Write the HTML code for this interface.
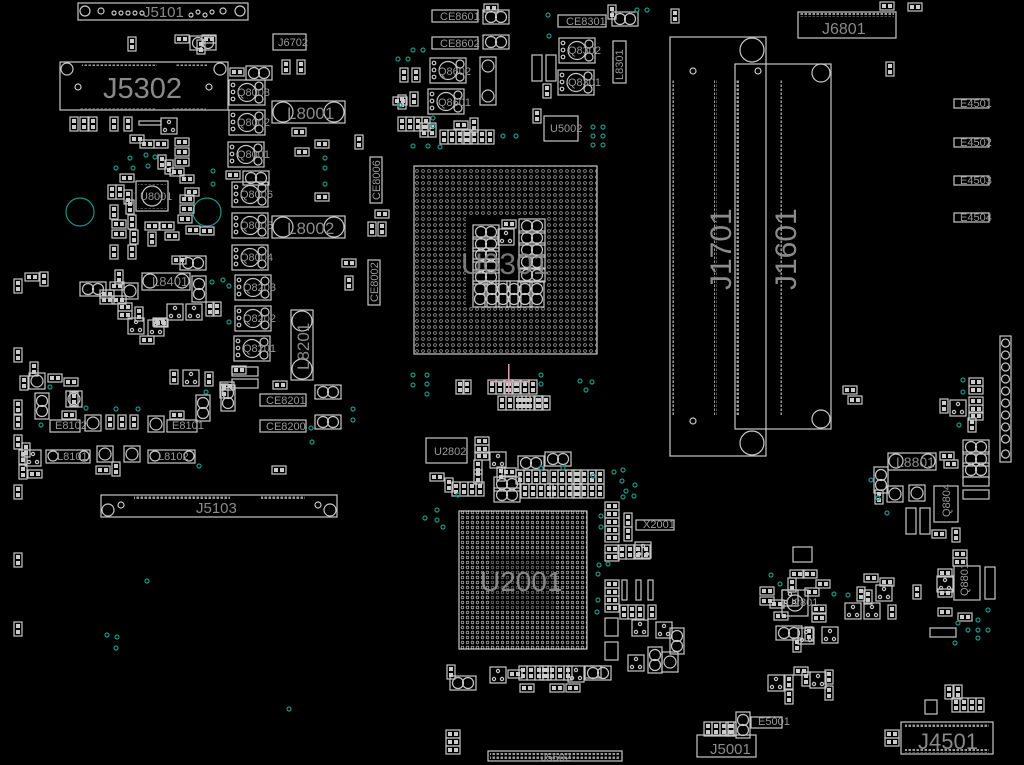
<!DOCTYPE html>
<html><head><meta charset="utf-8"><style>
html,body{margin:0;padding:0;background:#000;width:1024px;height:765px;overflow:hidden}
svg{display:block}
.o{fill:none;stroke:#c8c8c8;stroke-width:1.2}
.t{fill:none;stroke:#1a9488;stroke-width:1.2}
.lb{fill:#8a8a8a;font-family:"Liberation Sans",sans-serif}
.sl{fill:#9a9a9a;font-family:"Liberation Sans",sans-serif;font-size:11px}
</style></head><body>
<svg width="1024" height="765" viewBox="0 0 1024 765" xmlns="http://www.w3.org/2000/svg">
<defs>
<pattern id="bga" width="6" height="6" patternUnits="userSpaceOnUse">
<circle cx="3" cy="3" r="1.4" fill="none" stroke="#9a9a9a" stroke-width="0.8"/>
</pattern>
<pattern id="bga2" width="5" height="5" patternUnits="userSpaceOnUse">
<circle cx="2.5" cy="2.5" r="1.3" fill="none" stroke="#a8a8a8" stroke-width="0.8"/>
</pattern>
<pattern id="pins" width="4" height="4" patternUnits="userSpaceOnUse">
<rect x="0.5" y="0.5" width="2.5" height="2.5" fill="#999"/>
</pattern>
<g id="p"><rect class="o" x="0" y="0" width="14" height="8"/><rect x="2" y="2" width="4" height="4" fill="#ccc"/><rect x="8" y="2" width="4" height="4" fill="#ccc"/></g>
<g id="v"><rect class="o" x="0" y="0" width="8" height="14"/><rect x="2" y="2" width="4" height="4" fill="#ccc"/><rect x="2" y="8" width="4" height="4" fill="#ccc"/></g>
<g id="c2"><rect class="o" x="0" y="0" width="26" height="14"/><circle class="o" cx="8" cy="7" r="5.5"/><circle class="o" cx="18" cy="7" r="5.5"/></g>
<g id="c2v"><rect class="o" x="0" y="0" width="14" height="26"/><circle class="o" cx="7" cy="8" r="5.5"/><circle class="o" cx="7" cy="18" r="5.5"/></g>
<g id="q"><rect class="o" x="0" y="0" width="36" height="25"/><circle class="o" cx="18" cy="12.5" r="9"/><circle class="o" cx="30" cy="6" r="4"/><circle class="o" cx="30" cy="19" r="4"/><circle class="o" cx="4" cy="5" r="1.8"/><circle class="o" cx="4" cy="12" r="1.8"/><circle class="o" cx="4" cy="19" r="1.8"/></g>
<g id="sq"><rect class="o" x="0" y="0" width="16" height="16"/><circle class="o" cx="8" cy="8" r="6"/></g>
<g id="ic"><rect class="o" x="0" y="0" width="16" height="16"/><circle class="o" cx="4" cy="12" r="1.6"/><circle class="o" cx="12" cy="12" r="1.6"/><circle class="o" cx="8" cy="4" r="1.6"/></g>
<g id="p4"><use href="#v" x="0"/><use href="#v" x="8"/><use href="#v" x="16"/><use href="#v" x="24"/></g>
</defs>
<rect width="1024" height="765" fill="#000"/>

<!-- J5101 -->
<rect class="o" x="78" y="3" width="170" height="17"/>
<circle class="o" cx="85" cy="11" r="5"/><circle class="o" cx="240" cy="11" r="5"/>
<circle class="o" cx="101" cy="11" r="3"/><circle class="o" cx="223" cy="11" r="3"/>
<g class="o"><circle cx="114" cy="13" r="2"/><circle cx="121" cy="13" r="2"/><circle cx="128" cy="13" r="2"/><circle cx="135" cy="13" r="2"/><circle cx="142" cy="13" r="2"/><circle cx="191" cy="15" r="2"/><circle cx="198" cy="12" r="2"/><circle cx="205" cy="15" r="2"/><circle cx="212" cy="12" r="2"/></g>
<text class="lb" x="143" y="17" font-size="15">J5101</text>

<!-- J5302 -->
<rect class="o" x="60" y="62" width="168" height="48"/>
<circle class="o" cx="67" cy="69" r="6"/><circle class="o" cx="220" cy="69" r="6"/>
<circle class="o" cx="78" cy="87" r="3"/><circle class="o" cx="209" cy="87" r="3"/>
<rect x="82" y="63" width="75" height="3" fill="url(#pins)"/><rect x="175" y="63" width="32" height="3" fill="url(#pins)"/>
<rect x="80" y="107" width="75" height="3" fill="url(#pins)"/><rect x="172" y="107" width="34" height="3" fill="url(#pins)"/>
<text class="lb" x="103" y="98" font-size="29">J5302</text>

<!-- J6702 -->
<rect class="o" x="273" y="34" width="33" height="16"/><text class="sl" x="278" y="46" font-size="9">J6702</text>

<!-- Q parts left column -->
<use href="#q" x="229" y="80"/><use href="#q" x="229" y="110"/><use href="#q" x="228" y="142"/>
<use href="#q" x="232" y="182"/><use href="#q" x="232" y="213"/><use href="#q" x="232" y="245"/>
<use href="#q" x="235" y="275"/><use href="#q" x="235" y="306"/><use href="#q" x="234" y="336"/>
<text class="sl" x="237" y="96" font-size="9">Q8003</text>
<text class="sl" x="237" y="126" font-size="9">Q8002</text>
<text class="sl" x="237" y="158" font-size="9">Q8001</text>
<text class="sl" x="240" y="198" font-size="9">Q8006</text>
<text class="sl" x="240" y="229" font-size="9">Q8005</text>
<text class="sl" x="240" y="261" font-size="9">Q8004</text>
<text class="sl" x="243" y="291" font-size="9">Q8203</text>
<text class="sl" x="243" y="322" font-size="9">Q8202</text>
<text class="sl" x="243" y="352" font-size="9">Q8201</text>

<!-- L8001 L8002 -->
<rect class="o" x="272" y="101" width="73" height="22"/><circle class="o" cx="283" cy="112" r="10"/><circle class="o" cx="334" cy="112" r="10"/>
<text class="lb" x="287" y="119" font-size="17">L8001</text>
<rect class="o" x="272" y="216" width="73" height="22"/><circle class="o" cx="283" cy="227" r="10"/><circle class="o" cx="334" cy="227" r="10"/>
<text class="lb" x="287" y="234" font-size="17">L8002</text>
<!-- L8201 -->
<rect class="o" x="291" y="310" width="22" height="70"/><circle class="o" cx="302" cy="321" r="10"/><circle class="o" cx="302" cy="369" r="10"/>
<text class="lb" font-size="17" transform="translate(309,370) rotate(-90)">L8201</text>

<!-- U8001 area -->
<rect class="o" x="136" y="181" width="32" height="30"/><circle class="o" cx="152" cy="196" r="10"/>
<rect x="138" y="183" width="28" height="2" fill="url(#pins)"/><rect x="138" y="207" width="28" height="2" fill="url(#pins)"/>
<text class="sl" x="140" y="200" font-size="8">U8001</text>
<circle class="t" cx="80" cy="212" r="14"/><circle class="t" cx="207" cy="212" r="14"/>
<use href="#v" x="70" y="117"/><use href="#v" x="80" y="117"/><use href="#v" x="89" y="117"/><use href="#v" x="110" y="117"/><use href="#v" x="124" y="117"/>
<rect class="o" x="139" y="121" width="22" height="4"/><use href="#ic" x="161" y="118"/>
<use href="#p" x="130" y="135"/><use href="#p" x="140" y="140"/><use href="#p" x="154" y="140"/><use href="#p" x="175" y="138"/><use href="#p" x="175" y="148"/><use href="#p" x="175" y="158"/>
<use href="#v" x="158" y="155"/><use href="#v" x="165" y="160"/><use href="#p" x="170" y="168"/><use href="#p" x="180" y="175"/><use href="#p" x="180" y="195"/><use href="#p" x="180" y="205"/>
<use href="#p" x="120" y="174"/><use href="#v" x="108" y="185"/><use href="#v" x="116" y="185"/><use href="#v" x="124" y="190"/><use href="#v" x="110" y="205"/><use href="#v" x="126" y="200"/>
<use href="#p" x="112" y="220"/><use href="#p" x="112" y="230"/><use href="#v" x="128" y="215"/><use href="#p" x="145" y="222"/><use href="#p" x="160" y="222"/><use href="#p" x="165" y="232"/>
<use href="#v" x="130" y="230"/><use href="#v" x="148" y="232"/><use href="#p" x="178" y="215"/><use href="#v" x="110" y="245"/><use href="#v" x="128" y="245"/>
<use href="#p" x="185" y="188"/><use href="#p" x="200" y="227"/>
<use href="#c2" x="180" y="256"/><use href="#p" x="172" y="256"/>

<!-- top-left small parts -->
<use href="#v" x="128" y="37"/><use href="#p" x="175" y="35"/><use href="#c2" x="190" y="36"/><use href="#v" x="197" y="40"/><use href="#p" x="202" y="35"/>
<use href="#v" x="282" y="60"/><use href="#v" x="297" y="60"/>
<use href="#p" x="230" y="68"/><use href="#c2" x="246" y="66"/>
<use href="#p" x="292" y="128"/><use href="#p" x="295" y="148"/><use href="#p" x="315" y="140"/>
<use href="#p" x="315" y="193"/><use href="#p" x="226" y="171"/><use href="#c2" x="243" y="171"/><use href="#v" x="355" y="135"/>
<rect class="o" x="370" y="157" width="12" height="46"/><text class="sl" font-size="8" transform="translate(380,200) rotate(-90)">CE8006</text>
<use href="#v" x="368" y="222"/><use href="#v" x="378" y="222"/><use href="#p" x="375" y="210"/>
<rect class="o" x="368" y="260" width="12" height="45"/><text class="sl" font-size="8" transform="translate(378,302) rotate(-90)">CE8002</text>
<use href="#v" x="345" y="276"/><use href="#p" x="342" y="259"/><use href="#p" x="186" y="226"/>

<!-- left mid -->
<use href="#v" x="14" y="279"/><use href="#p" x="25" y="273"/><use href="#v" x="40" y="272"/>
<use href="#c2" x="80" y="282"/><use href="#p" x="100" y="290"/><use href="#p" x="110" y="282"/><use href="#p" x="100" y="296"/><use href="#p" x="112" y="296"/>
<use href="#sq" x="122" y="283"/><use href="#v" x="115" y="270"/><use href="#p" x="118" y="303"/><use href="#p" x="118" y="311"/><use href="#v" x="135" y="307"/>
<rect class="o" x="142" y="273" width="48" height="17"/><circle class="o" cx="150" cy="281" r="7"/><circle class="o" cx="182" cy="281" r="7"/><text class="lb" x="152" y="286" font-size="13">L8401</text>
<use href="#c2v" x="192" y="276"/><use href="#p" x="154" y="319"/><use href="#ic" x="128" y="318"/><use href="#ic" x="148" y="320"/><use href="#ic" x="167" y="304"/><use href="#ic" x="186" y="304"/>
<use href="#v" x="206" y="302"/><use href="#v" x="213" y="302"/><use href="#p" x="140" y="336"/><use href="#p" x="153" y="318"/>
<use href="#v" x="14" y="348"/><use href="#v" x="20" y="376"/><use href="#v" x="30" y="362"/><use href="#sq" x="29" y="373"/><use href="#p" x="48" y="374"/><use href="#p" x="64" y="378"/><use href="#v" x="70" y="392"/>
<use href="#c2v" x="35" y="393"/><use href="#sq" x="66" y="391"/><use href="#v" x="14" y="400"/><use href="#v" x="14" y="415"/><use href="#v" x="19" y="450"/><use href="#v" x="14" y="435"/>
<rect class="o" x="50" y="420" width="30" height="12"/><text class="sl" x="55" y="429" font-size="7">E8102</text>
<use href="#sq" x="85" y="415"/><use href="#v" x="106" y="415"/><use href="#v" x="118" y="415"/><use href="#v" x="130" y="415"/><use href="#sq" x="148" y="416"/>
<rect class="o" x="167" y="420" width="30" height="12"/><text class="sl" x="172" y="429" font-size="7">E8101</text>
<use href="#p" x="62" y="411"/><use href="#p" x="170" y="411"/><use href="#v" x="170" y="370"/><use href="#ic" x="183" y="370"/><use href="#v" x="205" y="372"/>
<use href="#c2v" x="196" y="395"/><use href="#p" x="220" y="382"/><use href="#v" x="220" y="384"/>
<use href="#v" x="22" y="443"/><use href="#v" x="19" y="465"/><use href="#ic" x="25" y="450"/><use href="#p" x="28" y="470"/>
<rect class="o" x="46" y="450" width="44" height="13"/><circle class="o" cx="53" cy="456" r="5"/><circle class="o" cx="84" cy="456" r="5"/><text class="sl" x="57" y="460" font-size="10">L8101</text>
<rect class="o" x="148" y="450" width="47" height="13"/><circle class="o" cx="155" cy="456" r="5"/><circle class="o" cx="189" cy="456" r="5"/><text class="sl" x="158" y="460" font-size="10">L8102</text>
<use href="#sq" x="97" y="446"/><use href="#sq" x="124" y="446"/><use href="#v" x="112" y="462"/><use href="#p" x="96" y="466"/><use href="#p" x="272" y="466"/>
<use href="#v" x="14" y="485"/><use href="#v" x="14" y="553"/><use href="#v" x="14" y="622"/>
<!-- CE82xx -->
<use href="#p" x="232" y="366"/><rect class="o" x="232" y="367" width="26" height="9"/>
<rect class="o" x="232" y="379" width="26" height="9"/><use href="#p" x="273" y="381"/>
<rect class="o" x="260" y="394" width="46" height="12"/><text class="sl" x="266" y="404" font-size="10">CE8201</text>
<rect class="o" x="260" y="420" width="46" height="12"/><text class="sl" x="266" y="430" font-size="10">CE8200</text>
<use href="#c2" x="315" y="385"/><use href="#c2" x="315" y="415"/><use href="#c2v" x="221" y="385"/>

<!-- J5103 -->
<rect class="o" x="101" y="495" width="236" height="22"/>
<circle class="o" cx="108" cy="510" r="6"/><circle class="o" cx="330" cy="510" r="6"/><circle class="o" cx="121" cy="505" r="3"/><circle class="o" cx="318" cy="505" r="3"/>
<rect x="134" y="496" width="96" height="3" fill="url(#pins)"/><rect x="261" y="496" width="44" height="3" fill="url(#pins)"/>
<text class="lb" x="196" y="513" font-size="15">J5103</text>

<!-- U0301 -->
<rect x="414" y="166" width="183" height="188" fill="url(#bga)"/>
<rect x="466" y="215" width="80" height="90" fill="#000"/>
<rect class="o" x="414" y="166" width="183" height="188"/>
<use href="#c2" x="473" y="225"/><use href="#c2" x="473" y="237"/><use href="#c2" x="473" y="248"/><use href="#c2" x="473" y="259"/><use href="#c2" x="473" y="270"/>
<use href="#c2" x="519" y="219"/><use href="#c2" x="519" y="231"/><use href="#c2" x="519" y="243"/><use href="#c2" x="519" y="255"/><use href="#c2" x="519" y="268"/>
<use href="#c2v" x="473" y="281"/><use href="#c2v" x="485" y="281"/><use href="#c2v" x="496" y="281"/><use href="#c2v" x="507" y="281"/><use href="#c2v" x="518" y="281"/><use href="#c2v" x="530" y="281"/>
<use href="#ic" x="498" y="229"/><use href="#p" x="502" y="220"/>
<text x="461" y="274" font-size="30" fill="#8a8a8a" fill-opacity="0.85" font-family="Liberation Sans,sans-serif">U0301</text>

<!-- top middle -->
<rect class="o" x="432" y="10" width="46" height="12"/><text class="sl" x="440" y="20" font-size="10">CE8601</text>
<rect class="o" x="432" y="37" width="46" height="12"/><text class="sl" x="440" y="47" font-size="10">CE8602</text>
<use href="#c2" x="483" y="35"/><use href="#c2" x="483" y="10"/><use href="#p" x="484" y="4"/>
<use href="#q" x="430" y="58"/><use href="#q" x="428" y="89"/><text class="sl" x="438" y="75" font-size="9">Q8602</text><text class="sl" x="438" y="106" font-size="9">Q8601</text>
<rect class="o" x="480" y="57" width="16" height="48"/><circle class="o" cx="488" cy="66" r="6"/><circle class="o" cx="488" cy="96" r="6"/>
<use href="#v" x="400" y="68"/><use href="#v" x="412" y="68"/><use href="#v" x="410" y="92"/><use href="#v" x="398" y="95"/><use href="#p" x="393" y="97"/>
<use href="#p4" x="398" y="117"/><use href="#v" x="420" y="123"/><use href="#v" x="428" y="123"/><use href="#p4" x="440" y="130"/><use href="#p4" x="462" y="130"/><use href="#p" x="454" y="121"/><use href="#v" x="470" y="118"/>
<rect class="o" x="558" y="15" width="48" height="12"/><text class="sl" x="566" y="25" font-size="10">CE8301</text>
<use href="#c2" x="612" y="12"/><use href="#v" x="608" y="5"/>
<use href="#q" x="559" y="38"/><use href="#q" x="558" y="70"/><text class="sl" x="568" y="54" font-size="9">Q8302</text><text class="sl" x="568" y="86" font-size="9">Q8301</text>
<rect class="o" x="613" y="41" width="13" height="42"/><text class="sl" font-size="9" transform="translate(623,80) rotate(-90)">L8301</text>
<rect class="o" x="532" y="55" width="10" height="26"/><rect class="o" x="546" y="55" width="10" height="26"/><use href="#v" x="543" y="84"/>
<rect class="o" x="544" y="116" width="34" height="25"/><text class="sl" x="550" y="132" font-size="9">U5002</text><use href="#v" x="533" y="109"/>
<use href="#v" x="671" y="9"/>

<!-- between -->
<use href="#v" x="456" y="380"/><use href="#v" x="463" y="380"/>
<use href="#p4" x="488" y="380"/><use href="#p4" x="505" y="380"/>
<use href="#p4" x="498" y="396"/><use href="#p4" x="518" y="396"/><use href="#v" x="535" y="396"/>
<rect x="508" y="364" width="1.5" height="30" fill="#d4a0b0"/><rect x="490" y="381" width="40" height="1.5" fill="#d4a0b0"/>

<!-- U2802 area -->
<rect class="o" x="426" y="438" width="41" height="25"/><text class="sl" x="434" y="455" font-size="10">U2802</text>
<use href="#p" x="475" y="437"/><use href="#p" x="475" y="445"/><use href="#p" x="475" y="452"/><use href="#v" x="474" y="460"/><use href="#v" x="474" y="470"/>
<use href="#ic" x="490" y="452"/><use href="#c2" x="518" y="456"/><use href="#c2" x="545" y="452"/><use href="#p" x="502" y="468"/>
<use href="#c2" x="494" y="477"/><use href="#c2" x="494" y="488"/>
<use href="#p4" x="516" y="470"/><use href="#p4" x="550" y="470"/><use href="#p4" x="572" y="470"/>
<use href="#p4" x="521" y="484"/><use href="#p4" x="550" y="484"/><use href="#p4" x="572" y="484"/>
<use href="#p4" x="452" y="482"/><use href="#v" x="445" y="478"/><use href="#p" x="430" y="473"/><use href="#v" x="497" y="467"/>

<!-- U2001 -->
<rect x="459" y="511" width="128" height="138" fill="url(#bga2)"/>
<rect x="490" y="555" width="64" height="55" fill="#000" fill-opacity="0.35"/>
<rect class="o" x="459" y="511" width="128" height="138"/>
<text x="480" y="591" font-size="28" fill="#9a9a9a" fill-opacity="0.85" font-family="Liberation Sans,sans-serif">U2001</text>
<use href="#p" x="605" y="502"/><use href="#p" x="605" y="510"/><use href="#p" x="605" y="518"/><use href="#p" x="605" y="526"/><use href="#p" x="605" y="534"/>
<use href="#v" x="624" y="513"/><use href="#v" x="624" y="527"/>
<rect class="o" x="636" y="520" width="38" height="10"/><text class="sl" x="643" y="528" font-size="8">X2001</text>
<use href="#p" x="605" y="545"/><use href="#p" x="605" y="553"/><use href="#p4" x="618" y="545"/><use href="#ic" x="635" y="542"/>
<use href="#p" x="605" y="580"/><use href="#p" x="605" y="588"/><use href="#p" x="605" y="596"/><use href="#p" x="605" y="604"/>
<rect class="o" x="622" y="580" width="5" height="20"/><rect class="o" x="636" y="580" width="5" height="20"/><rect class="o" x="648" y="580" width="5" height="20"/>
<use href="#v" x="620" y="605"/><use href="#v" x="628" y="605"/><use href="#v" x="636" y="605"/><use href="#v" x="648" y="605"/>
<rect class="o" x="605" y="618" width="13" height="18"/><use href="#ic" x="632" y="620"/><use href="#ic" x="656" y="622"/><use href="#c2v" x="670" y="628"/>
<rect class="o" x="605" y="642" width="13" height="18"/><use href="#ic" x="628" y="655"/><use href="#c2v" x="648" y="647"/><rect class="o" x="662" y="652" width="16" height="20"/><circle class="o" cx="670" cy="662" r="6"/>
<use href="#c2" x="585" y="666"/><rect class="o" x="585" y="666" width="16" height="12"/>
<use href="#p4" x="519" y="666"/><use href="#p4" x="540" y="666"/><use href="#p" x="508" y="670"/><use href="#ic" x="490" y="667"/><use href="#ic" x="568" y="666"/>
<use href="#p" x="520" y="684"/><use href="#p" x="550" y="684"/><use href="#p" x="566" y="684"/><use href="#c2" x="450" y="676"/><use href="#v" x="447" y="665"/>
<use href="#p" x="446" y="730"/><use href="#p" x="446" y="738"/><use href="#p" x="446" y="746"/>

<!-- J5502 -->
<rect class="o" x="488" y="751" width="134" height="10"/><rect x="490" y="753" width="130" height="6" fill="url(#pins)"/>
<text class="sl" x="541" y="761" font-size="8">J5502</text>

<!-- J1701 / J1601 -->
<rect class="o" x="670" y="37" width="96" height="419"/>
<circle class="o" cx="752" cy="50" r="12"/><circle class="o" cx="693" cy="71" r="3"/><circle class="o" cx="693" cy="421" r="3"/><circle class="o" cx="752" cy="443" r="12"/>
<rect x="671" y="80" width="3" height="335" fill="url(#pins)"/><rect x="714" y="80" width="3" height="335" fill="url(#pins)"/>
<rect class="o" x="735" y="64" width="96" height="365"/>
<circle class="o" cx="821" cy="73" r="9"/><circle class="o" cx="758" cy="71" r="3"/><circle class="o" cx="821" cy="419" r="9"/>
<rect x="736" y="80" width="3" height="335" fill="url(#pins)"/><rect x="779" y="80" width="3" height="335" fill="url(#pins)"/>
<text class="lb" font-size="30" transform="translate(731,290) rotate(-90)">J1701</text>
<text class="lb" font-size="30" transform="translate(796,290) rotate(-90)">J1601</text>

<!-- J6801 -->
<rect class="o" x="798" y="12" width="98" height="26"/><rect x="800" y="13" width="94" height="4" fill="url(#pins)"/>
<text class="lb" x="822" y="34" font-size="16">J6801</text>
<use href="#p" x="880" y="2"/><use href="#p" x="908" y="3"/><use href="#v" x="886" y="62"/>
<!-- E450x -->
<rect class="o" x="954" y="99" width="35" height="9"/><text class="sl" x="960" y="107" font-size="7">E4501</text>
<rect class="o" x="954" y="138" width="35" height="9"/><text class="sl" x="960" y="146" font-size="7">E4502</text>
<rect class="o" x="954" y="176" width="35" height="9"/><text class="sl" x="960" y="184" font-size="7">E4503</text>
<rect class="o" x="954" y="213" width="35" height="9"/><text class="sl" x="960" y="221" font-size="7">E4504</text>

<!-- right connector -->
<rect class="o" x="1000" y="336" width="11" height="126"/>
<g class="o"><circle cx="1005.5" cy="343" r="4"/><circle cx="1005.5" cy="355" r="4"/><circle cx="1005.5" cy="367" r="4"/><circle cx="1005.5" cy="379" r="4"/><circle cx="1005.5" cy="391" r="4"/><circle cx="1005.5" cy="403" r="4"/><circle cx="1005.5" cy="415" r="4"/><circle cx="1005.5" cy="427" r="4"/><circle cx="1005.5" cy="439" r="4"/><circle cx="1005.5" cy="454" r="4"/></g>
<use href="#p" x="843" y="386"/><use href="#p" x="848" y="396"/>
<use href="#p" x="969" y="378"/><use href="#p" x="969" y="386"/><use href="#p" x="969" y="397"/><use href="#p" x="969" y="405"/><use href="#p" x="969" y="412"/><use href="#v" x="940" y="399"/><use href="#ic" x="950" y="400"/><use href="#v" x="968" y="418"/>
<use href="#c2" x="963" y="440"/><use href="#c2" x="963" y="452"/><use href="#c2" x="963" y="463"/><use href="#p" x="940" y="452"/><use href="#p" x="944" y="460"/>
<rect class="o" x="888" y="453" width="48" height="17"/><circle class="o" cx="896" cy="461" r="7"/><circle class="o" cx="928" cy="461" r="7"/><text class="lb" x="896" y="467" font-size="14">L8801</text>
<rect class="o" x="963" y="477" width="26" height="9"/><rect class="o" x="963" y="490" width="26" height="9"/>
<use href="#c2v" x="874" y="467"/><use href="#v" x="875" y="490"/><use href="#sq" x="887" y="486"/><use href="#sq" x="909" y="485"/>
<rect class="o" x="934" y="486" width="24" height="36"/><text class="sl" font-size="9" transform="translate(950,517) rotate(-90)">Q8804</text>
<rect class="o" x="906" y="508" width="10" height="26"/><rect class="o" x="920" y="508" width="10" height="26"/><use href="#p" x="932" y="530"/><use href="#v" x="952" y="528"/>
<!-- right lower -->
<use href="#p" x="953" y="550"/><use href="#p" x="953" y="558"/><use href="#p" x="938" y="569"/><use href="#ic" x="937" y="576"/><use href="#p" x="938" y="589"/><use href="#p" x="938" y="608"/>
<rect class="o" x="954" y="566" width="26" height="34"/><text class="sl" font-size="8" transform="translate(968,596) rotate(-90)">Q8801</text>
<rect class="o" x="985" y="567" width="10" height="32"/>
<rect class="o" x="930" y="628" width="26" height="9"/><use href="#p" x="958" y="613"/>
<use href="#p" x="864" y="574"/><use href="#p" x="880" y="578"/><use href="#ic" x="876" y="585"/><use href="#ic" x="845" y="603"/><use href="#v" x="857" y="587"/><use href="#v" x="864" y="590"/><use href="#ic" x="864" y="603"/><use href="#v" x="888" y="605"/>
<rect class="o" x="793" y="547" width="19" height="15"/>
<use href="#ic" x="782" y="590"/><rect class="o" x="782" y="590" width="26" height="26"/><circle class="o" cx="795" cy="603" r="8"/><text class="sl" x="786" y="606" font-size="6">U2801</text>
<use href="#p" x="760" y="587"/><use href="#p" x="760" y="597"/><use href="#p" x="774" y="612"/><use href="#p" x="770" y="600"/><use href="#p" x="790" y="570"/><use href="#p" x="803" y="570"/><use href="#p" x="816" y="580"/><use href="#v" x="788" y="578"/>
<use href="#p" x="805" y="588"/><use href="#p" x="812" y="605"/><use href="#p" x="812" y="614"/><use href="#c2" x="776" y="626"/><use href="#v" x="805" y="627"/><use href="#ic" x="822" y="627"/><use href="#v" x="793" y="638"/><use href="#ic" x="798" y="628"/>
<use href="#p" x="794" y="667"/><use href="#ic" x="768" y="675"/><use href="#v" x="785" y="675"/><use href="#v" x="802" y="672"/><use href="#ic" x="810" y="672"/><use href="#v" x="825" y="670"/><use href="#v" x="825" y="686"/><use href="#v" x="785" y="690"/>
<use href="#v" x="913" y="585"/>
<!-- J5001 / J4501 -->
<rect class="o" x="697" y="735" width="59" height="22"/><text class="lb" x="710" y="754" font-size="15">J5001</text>
<use href="#p4" x="704" y="722"/><use href="#v" x="726" y="722"/><use href="#c2v" x="736" y="712"/>
<rect class="o" x="751" y="717" width="31" height="11"/><text class="sl" x="758" y="725" font-size="7">E5001</text>
<rect class="o" x="901" y="722" width="92" height="32"/><rect x="905" y="723" width="84" height="4" fill="url(#pins)"/><rect x="905" y="749" width="84" height="4" fill="url(#pins)"/>
<text class="lb" x="918" y="749" font-size="22">J4501</text>
<use href="#v" x="945" y="685"/><use href="#v" x="954" y="685"/><use href="#p" x="885" y="730"/><use href="#p" x="885" y="738"/><rect class="o" x="925" y="700" width="12" height="14"/><use href="#p4" x="952" y="698"/>

<!-- teal vias -->
<g class="t">
<circle cx="130" cy="158" r="2"/><circle cx="146" cy="155" r="2"/><circle cx="155" cy="157" r="2"/><circle cx="116" cy="168" r="2"/><circle cx="133" cy="168" r="2"/><circle cx="148" cy="166" r="2"/><circle cx="213" cy="171" r="2"/><circle cx="213" cy="184" r="2"/><circle cx="325" cy="158" r="2"/><circle cx="325" cy="168" r="2"/><circle cx="325" cy="184" r="2"/>
<circle cx="212" cy="282" r="2"/><circle cx="223" cy="280" r="2"/><circle cx="229" cy="286" r="2"/><circle cx="229" cy="322" r="2"/><circle cx="50" cy="387" r="2"/><circle cx="86" cy="408" r="2"/><circle cx="116" cy="409" r="2"/><circle cx="138" cy="409" r="2"/><circle cx="206" cy="392" r="2"/><circle cx="41" cy="425" r="2"/><circle cx="199" cy="466" r="2"/><circle cx="311" cy="428" r="2"/><circle cx="312" cy="442" r="2"/><circle cx="353" cy="409" r="2"/><circle cx="353" cy="420" r="2"/>
<circle cx="147" cy="581" r="2"/><circle cx="107" cy="635" r="2"/><circle cx="117" cy="637" r="2"/><circle cx="116" cy="648" r="2"/><circle cx="289" cy="709" r="2"/>
<circle cx="413" cy="375" r="2"/><circle cx="413" cy="385" r="2"/><circle cx="427" cy="375" r="2"/><circle cx="427" cy="384" r="2"/><circle cx="427" cy="394" r="2"/><circle cx="541" cy="375" r="2"/><circle cx="541" cy="384" r="2"/><circle cx="580" cy="381" r="2"/><circle cx="592" cy="382" r="2"/><circle cx="586" cy="390" r="2"/>
<circle cx="413" cy="50" r="2"/><circle cx="423" cy="50" r="2"/><circle cx="398" cy="59" r="2"/><circle cx="408" cy="59" r="2"/><circle cx="400" cy="105" r="2"/><circle cx="433" cy="118" r="2"/><circle cx="433" cy="126" r="2"/><circle cx="548" cy="15" r="2"/><circle cx="549" cy="36" r="2"/><circle cx="637" cy="10" r="2"/><circle cx="647" cy="10" r="2"/><circle cx="593" cy="127" r="2"/><circle cx="603" cy="127" r="2"/><circle cx="593" cy="136" r="2"/><circle cx="603" cy="136" r="2"/><circle cx="593" cy="145" r="2"/><circle cx="603" cy="145" r="2"/><circle cx="503" cy="136" r="2"/><circle cx="516" cy="136" r="2"/><circle cx="413" cy="146" r="2"/><circle cx="428" cy="146" r="2"/><circle cx="440" cy="147" r="2"/>
<circle cx="458" cy="495" r="2"/><circle cx="541" cy="468" r="2"/><circle cx="563" cy="468" r="2"/><circle cx="593" cy="476" r="2"/><circle cx="614" cy="472" r="2"/><circle cx="623" cy="470" r="2"/><circle cx="622" cy="481" r="2"/><circle cx="635" cy="485" r="2"/><circle cx="626" cy="491" r="2"/><circle cx="634" cy="496" r="2"/><circle cx="623" cy="497" r="2"/><circle cx="425" cy="518" r="2"/><circle cx="437" cy="510" r="2"/><circle cx="437" cy="520" r="2"/><circle cx="443" cy="527" r="2"/>
<circle cx="601" cy="516" r="2"/><circle cx="601" cy="527" r="2"/><circle cx="599" cy="565" r="2"/><circle cx="608" cy="564" r="2"/><circle cx="598" cy="574" r="2"/><circle cx="598" cy="600" r="2"/><circle cx="597" cy="612" r="2"/>
<circle cx="771" cy="575" r="2"/><circle cx="780" cy="584" r="2"/><circle cx="834" cy="594" r="2"/><circle cx="848" cy="595" r="2"/><circle cx="871" cy="480" r="2"/><circle cx="878" cy="498" r="2"/><circle cx="887" cy="513" r="2"/><circle cx="963" cy="380" r="2"/><circle cx="963" cy="392" r="2"/><circle cx="959" cy="425" r="2"/><circle cx="955" cy="643" r="2"/><circle cx="968" cy="630" r="2"/><circle cx="978" cy="630" r="2"/><circle cx="988" cy="630" r="2"/><circle cx="958" cy="623" r="2"/><circle cx="978" cy="620" r="2"/><circle cx="988" cy="610" r="2"/><circle cx="978" cy="638" r="2"/>
</g>
</svg>
</body></html>
